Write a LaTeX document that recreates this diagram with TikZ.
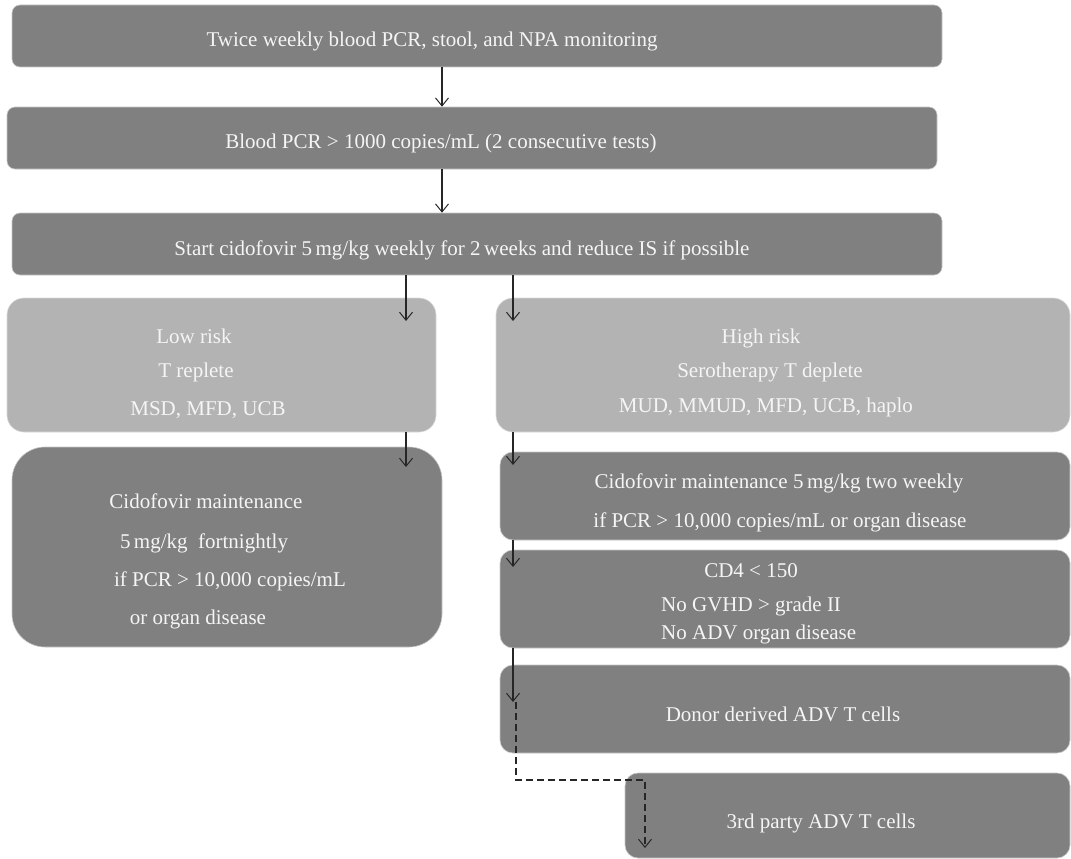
\documentclass[tikz,border=0pt]{standalone}
\usepackage{fontspec}
\setmainfont{Liberation Serif}
\usetikzlibrary{arrows.meta,fit}
\definecolor{boxdark}{RGB}{128,128,128}
\definecolor{boxlight}{RGB}{179,179,179}
\definecolor{txtc}{RGB}{245,245,245}
\begin{document}
\begin{tikzpicture}[x=1pt,y=-1pt,
  dbox/.style={fill=boxdark, draw=black!22, line width=0.6pt, inner sep=0pt, rounded corners=#1},
  dbox/.default=8pt,
  lbox/.style={fill=boxlight, draw=black!15, line width=0.6pt, inner sep=0pt, rounded corners=#1},
  lbox/.default=17pt,
  txt/.style={text=txtc, font=\fontsize{21}{25}\selectfont, inner sep=0pt, anchor=base},
  arr/.style={-{Straight Barb[length=8pt,width=13pt,line width=1pt]}, line width=1.1pt, draw=black!85},
  darr/.style={arr, dash pattern=on 7pt off 4pt, line width=1.1pt}]
\useasboundingbox (0,0) rectangle (1071,859);

% boxes
\node[dbox, fit={(12,5) (942,67)}] (b1) {};
\node[dbox, fit={(7,107) (937,169)}] (b2) {};
\node[dbox, fit={(12,213) (942,275)}] (b3) {};
\node[lbox, fit={(7,298) (436,432)}] (low) {};
\node[lbox, fit={(496,298) (1070,432)}] (high) {};
\node[dbox=33pt, fit={(12,447) (442,647)}] (lowc) {};
\node[dbox=13pt, fit={(500,452) (1070,540)}] (r1) {};
\node[dbox=13pt, fit={(500,550) (1070,648)}] (r2) {};
\node[dbox=13pt, fit={(500,665) (1070,753)}] (r3) {};
\node[dbox=13pt, fit={(625,773) (1070,858)}] (r4) {};

% texts
\node[txt] (t1) at (432,47) {Twice weekly blood PCR, stool, and NPA monitoring};
\node[txt] (t2) at (441,148) {Blood PCR > 1000 copies/mL (2 consecutive tests)};
\node[txt] (t3) at (462,255) {Start cidofovir 5\,mg/kg weekly for 2\,weeks and reduce IS if possible};
\node[txt] (l1) at (194,343) {Low risk};
\node[txt] (l2) at (196,377) {T replete};
\node[txt] (l3) at (208,415) {MSD, MFD, UCB};
\node[txt] (h1) at (761,343) {High risk};
\node[txt] (h2) at (770,377) {Serotherapy T deplete};
\node[txt] (h3) at (766,412) {MUD, MMUD, MFD, UCB, haplo};
\node[txt] (c1) at (206,508) {Cidofovir maintenance};
\node[txt] (c2) at (204,548) {5\,mg/kg\ \ fortnightly};
\node[txt] (c3) at (230,586) {if PCR > 10,000 copies/mL};
\node[txt] (c4) at (198,624) {or organ disease};
\node[txt] (m1) at (779,488) {Cidofovir maintenance 5\,mg/kg two weekly};
\node[txt] (m2) at (780,527) {if PCR > 10,000 copies/mL or organ disease};
\node[txt] (k1) at (751,577) {CD4 < 150};
\node[txt, anchor=base west] (k2) at (661,611) {No GVHD > grade II};
\node[txt, anchor=base west] (k3) at (661,639) {No ADV organ disease};
\node[txt] (dn) at (783,721) {Donor derived ADV T cells};
\node[txt] (tp) at (821,828) {3rd party ADV T cells};

% connector coordinates
\coordinate (xa) at (442,0);
\coordinate (tipL1) at (406,321);
\coordinate (tipR1) at (513,321);
\coordinate (tipL2) at (406,467);
\coordinate (tipR2) at (513,465);
\coordinate (tipR3) at (513,567);
\coordinate (tipR4) at (513,702);
\coordinate (d0) at (516,702);
\coordinate (d2) at (645,780);
\coordinate (tipR5) at (645,848);

% connectors
\draw[arr] (b1.south -| xa) -- (b2.north -| xa);
\draw[arr] (b2.south -| xa) -- (b3.north -| xa);
\draw[arr] (b3.south -| tipL1) -- (tipL1);
\draw[arr] (b3.south -| tipR1) -- (tipR1);
\draw[arr] (low.south -| tipL2) -- (tipL2);
\draw[arr] (high.south -| tipR2) -- (tipR2);
\draw[arr] (r1.south -| tipR3) -- (tipR3);
\draw[arr] (r2.south -| tipR4) -- (tipR4);
\draw[darr] (d0) |- (d2) -- (tipR5);
\end{tikzpicture}
\end{document}
